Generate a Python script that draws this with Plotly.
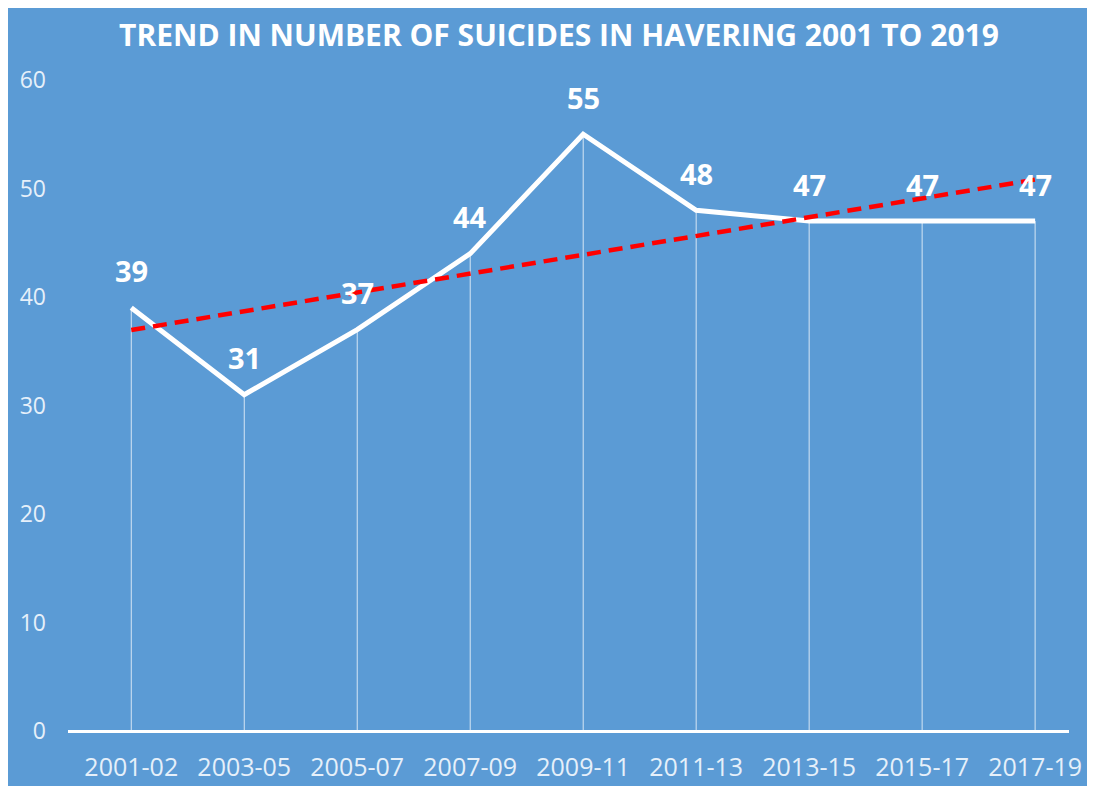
import numpy as np
import plotly.graph_objects as go

periods = ["2001-02", "2003-05", "2005-07", "2007-09", "2009-11",
           "2011-13", "2013-15", "2015-17", "2017-19"]
suicides = [39, 31, 37, 44, 55, 48, 47, 47, 47]
y_ticks = [0, 10, 20, 30, 40, 50, 60]
title_text = "TREND IN NUMBER OF SUICIDES IN HAVERING 2001 TO 2019"

BLUE = "#5B9BD5"
W, H = 1095, 786
L, R, T, B = 60, 34, 72, 63
pw, ph = W - L - R, H - T - B

idx = np.arange(len(periods))
slope, intercept = np.polyfit(idx, suicides, 1)
trend = slope * idx + intercept

# drop lines built from data
dx, dy = [], []
for i, v in zip(idx, suicides):
    dx += [i, i, None]
    dy += [0, v, None]

fig = go.Figure()
fig.add_trace(go.Scatter(x=dx, y=dy, mode="lines",
                         line=dict(color="rgba(255,255,255,0.75)", width=1),
                         hoverinfo="skip", showlegend=False))
fig.add_trace(go.Scatter(x=idx, y=suicides, mode="lines",
                         line=dict(color="white", width=5),
                         showlegend=False))
fig.add_trace(go.Scatter(x=idx, y=trend, mode="lines",
                         line=dict(color="#FF0000", width=4.5, dash="14px,8px"),
                         showlegend=False))

for i, v in zip(idx, suicides):
    fig.add_annotation(x=i, y=v, text=f"<b>{v}</b>", showarrow=False,
                       yshift=37, font=dict(family="Open Sans", size=29, color="white"))

fig.update_layout(
    width=W, height=H,
    margin=dict(l=L, r=R, t=T, b=B),
    paper_bgcolor=BLUE,
    plot_bgcolor=BLUE,
    title=dict(text=f"<b>{title_text}</b>", x=(551 - L) / pw, xanchor="center",
               y=1 - 27 / H, yanchor="middle", xref="paper",
               font=dict(family="Open Sans", size=30, color="white")),
    xaxis=dict(tickmode="array", tickvals=idx, ticktext=periods,
               range=[-0.56, 8.3], showgrid=False, zeroline=False,
               showline=False, ticks="", ticklabelstandoff=19,
               tickfont=dict(family="Open Sans", size=25, color="#E6F0FA")),
    yaxis=dict(range=[0, 60], tickvals=y_ticks, showgrid=False,
               zeroline=True, zerolinecolor="white", zerolinewidth=3,
               showline=False, ticks="", ticklabelstandoff=21,
               tickfont=dict(family="Open Sans", size=23, color="#E6F0FA")),
)

fig.write_html("out.html")
